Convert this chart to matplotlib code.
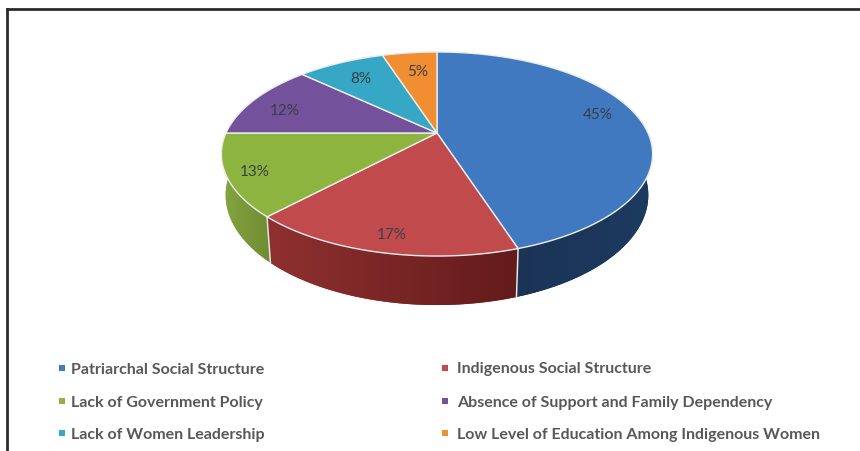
import numpy as np
import matplotlib
matplotlib.use('Agg')
import matplotlib.pyplot as plt
from matplotlib.colors import to_rgb

categories = ['Patriarchal Social Structure', 'Indigenous Social Structure',
              'Lack of Government Policy', 'Absence of Support and Family Dependency',
              'Lack of Women Leadership', 'Low Level of Education Among Indigenous Women']
shares = [45, 17, 13, 12, 8, 5]

top_colors = ['#4079bf', '#c14b4c', '#8db43f', '#74519b', '#37a7c6', '#f28e32']
side_left = ['#1a3050', '#8f3030', '#84a63e', '#4d3568', '#257088', '#a8601f']
side_right = ['#1d3a60', '#641b1b', '#6f8c33', '#4d3568', '#257088', '#a8601f']

CX, CY = 437, 133
A, B, K = 211, 97.7, 0.206


def rim(frac):
    # tilted disc: clockwise fraction from 12 o'clock to pixel position
    ang = 2 * np.pi * np.asarray(frac)
    u, v = np.sin(ang), np.cos(ang)
    w = 1 + K * v
    return CX + A * u / w, CY - B * v / w


def lower(x, y):
    # outline of the underside, a little narrower than the top
    return CX + (x - CX) * 0.98, y + 29.3 + 0.077 * y


fig = plt.figure(figsize=(8.6, 4.51), dpi=100)
ax = fig.add_axes([0, 0, 1, 1])

edges = np.cumsum([0] + shares) / sum(shares)

# side wall first, the top covers whatever is behind it
for i in range(len(shares)):
    t = np.linspace(edges[i], edges[i + 1], 120)
    x, y = rim(t)
    xb, yb = lower(x, y)
    px, py = np.r_[x, xb[::-1]], np.r_[y, yb[::-1]]
    wall = ax.fill(px, py, color=side_left[i], lw=0, zorder=1)[0]
    # horizontal shading, clipped to the wall outline
    mix = np.linspace(0, 1, 64)[:, None]
    shade = (1 - mix) * np.array(to_rgb(side_left[i])) + mix * np.array(to_rgb(side_right[i]))
    img = ax.imshow(shade[None, :, :], extent=(px.min(), px.max(), py.max(), py.min()),
                    aspect='auto', interpolation='bilinear', zorder=1)
    img.set_clip_path(wall)

ax.set_xlim(0, 860)
ax.set_ylim(451, 0)
ax.axis('off')

# white seams on the wall between the front slices
for i in [1, 2]:
    x, y = rim(edges[i])
    xb, yb = lower(x, y)
    ax.plot([x, xb], [y, yb], color='#e8e4e0', lw=1.1, zorder=2)

# top surface
for i in range(len(shares)):
    t = np.linspace(edges[i], edges[i + 1], 120)
    x, y = rim(t)
    ax.fill(np.r_[CX, x], np.r_[CY, y], facecolor=top_colors[i],
            edgecolor='#eeeeee', lw=1.0, zorder=3, joinstyle='round')

# percentage labels
label_xy = [(598, 115), (392, 235), (255, 172), (285, 111), (361, 79), (418, 72)]
for s, (lx, ly) in zip(shares, label_xy):
    ax.text(lx, ly, f'{s}%', ha='center', va='center', fontsize=11,
            family='Lato', color='#3a3f48', zorder=4)

# legend, two columns by three rows
leg_x = [62, 445]
text_x = [71, 457]
leg_y = [368, 401, 433]
for i, name in enumerate(categories):
    ly = leg_y[i // 2]
    ax.scatter([leg_x[i % 2]], [ly], marker='s', s=14, color=top_colors[i], lw=0, zorder=4)
    ax.text(text_x[i % 2], ly + 1.5, name, ha='left', va='center', fontsize=11.5,
            family='Lato', fontweight='bold', color='#585858', zorder=4)

# black frame, open on the right and at the bottom
ax.plot([7, 7], [451, 9], color='#2b2b2b', lw=2, solid_joinstyle='miter', zorder=5)
ax.plot([7, 860], [9, 9], color='#2b2b2b', lw=2, zorder=5)

fig.savefig('out.png', dpi=100)
